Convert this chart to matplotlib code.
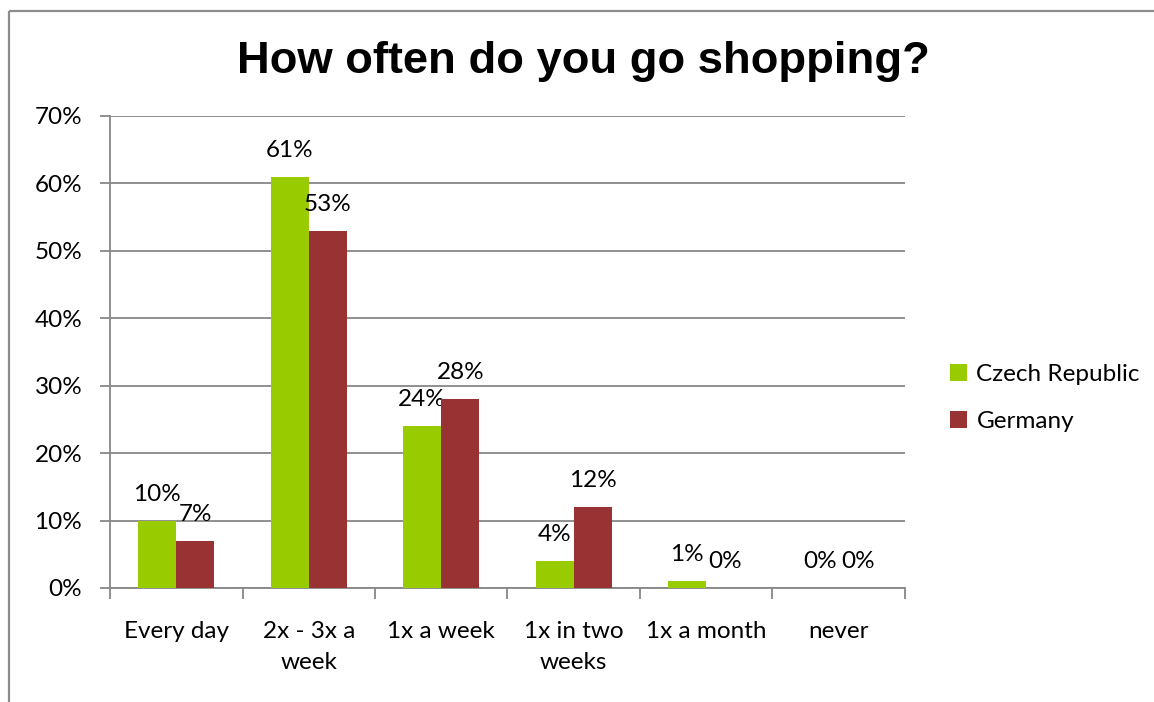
import matplotlib.pyplot as plt
from matplotlib.patches import Rectangle
from matplotlib.ticker import FuncFormatter
import numpy as np

categories = ["Every day", "2x - 3x a\nweek", "1x a week", "1x in two\nweeks", "1x a month", "never"]
czech = [10, 61, 24, 4, 1, 0]
germany = [7, 53, 28, 12, 0, 0]
series_names = ["Czech Republic", "Germany"]
colors = ["#99CC00", "#993333"]

plt.rcParams['font.family'] = ['Lato', 'DejaVu Sans']

W, H = 1154, 702
fig = plt.figure(figsize=(W / 100, H / 100), dpi=100)

# outer chart frame (right and bottom edges fall off the canvas)
fig.patches.append(Rectangle((9 / W, 1 - 11 / H), 2, -2, transform=fig.transFigure,
                             fill=False, edgecolor="#8c8c8c", linewidth=1.6))

ax = fig.add_axes([110 / W, 1 - 588 / H, 795 / W, 472 / H])

x = np.arange(len(categories))
bw = 0.287
grid_c = "#878787"
fs = 17.5

for i, (vals, name, c) in enumerate(zip([czech, germany], series_names, colors)):
    pos = x + (i - 0.5) * bw
    ax.bar(pos, vals, width=bw, color=c, label=name, zorder=3)
    for p, v in zip(pos, vals):
        ax.annotate(f"{v}%", (p, v), xytext=(0, 19), textcoords="offset points",
                    ha="center", va="center", fontsize=fs, color="black")

ax.set_xlim(-0.5, len(categories) - 0.5)
ax.set_ylim(0, 70)
ax.set_yticks(range(0, 71, 10))
ax.yaxis.set_major_formatter(FuncFormatter(lambda v, _: f"{int(v)}%"))
ax.yaxis.grid(True, color=grid_c, linewidth=1.3, zorder=0)
ax.set_axisbelow(True)

ax.set_xticks(x)
ax.set_xticklabels(categories, fontsize=fs, linespacing=1.55)
ax.set_xticks(np.arange(-0.5, len(categories)), minor=True)
ax.tick_params(axis="x", which="major", length=0, pad=24)
ax.tick_params(axis="x", which="minor", length=8, width=1.3, color=grid_c)
ax.tick_params(axis="y", length=7, width=1.3, color=grid_c, labelsize=fs, pad=13)

for s in ["top", "right"]:
    ax.spines[s].set_visible(False)
for s in ["left", "bottom"]:
    ax.spines[s].set_color(grid_c)
    ax.spines[s].set_linewidth(1.3)

fig.text(583 / W, 1 - 62 / H, "How often do you go shopping?", ha="center", va="center",
         fontsize=32.7, fontweight="bold", family=["Liberation Sans", "DejaVu Sans"])

fig.legend(loc="center left", bbox_to_anchor=(940 / W, 1 - 398 / H), frameon=False,
           fontsize=fs, handlelength=0.7, handleheight=0.7, handletextpad=0.4,
           labelspacing=1.05, borderaxespad=0)

fig.savefig("out.png", dpi=100)
